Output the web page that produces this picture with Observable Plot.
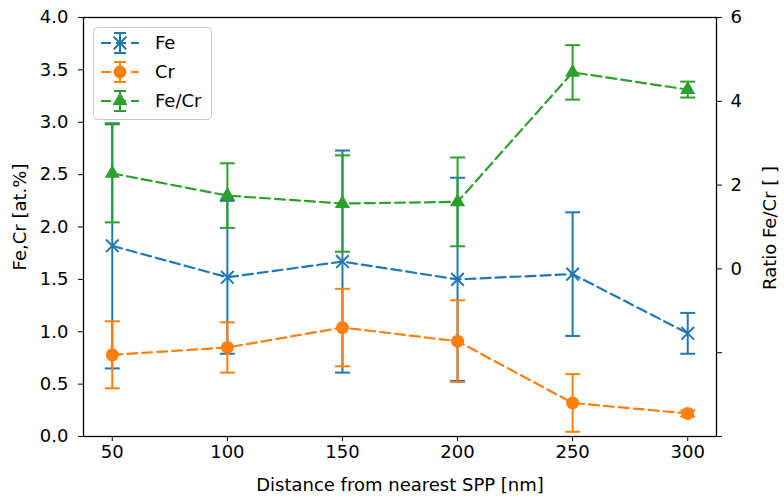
<!DOCTYPE html>
<html>
<head>
<meta charset="utf-8">
<script src="https://cdn.jsdelivr.net/npm/d3@7"></script>
<script src="https://cdn.jsdelivr.net/npm/@observablehq/plot@0.6"></script>
<style>
  html, body { margin: 0; padding: 0; background: #fff; }
  #chart { width: 784px; height: 502px; }
</style>
</head>
<body>
<div id="chart"></div>
<script>
// ---- data ----
const distances   = [50, 100, 150, 200, 250, 300];
const feValues    = [1.82, 1.52, 1.67, 1.50, 1.55, 0.985];
const feErrors    = [1.17, 0.73, 1.06, 0.97, 0.59, 0.195];
const crValues    = [0.78, 0.85, 1.04, 0.91, 0.32, 0.22];
const crErrors    = [0.32, 0.24, 0.37, 0.39, 0.275, 0.03];
const ratioValues = [2.28, 1.75, 1.56, 1.60, 4.69, 4.28];
const ratioErrors = [1.17, 0.77, 1.15, 1.06, 0.65, 0.19];

const xTicks = [50, 100, 150, 200, 250, 300];
const leftTicks = [0, 0.5, 1, 1.5, 2, 2.5, 3, 3.5, 4];
const rightTicks = [-4, -2, 0, 2, 4, 6];
const rightTickLabels = ["", "", "0", "2", "4", "6"];

const seriesNames = ["Fe", "Cr", "Fe/Cr"];
const colors = ["#1f77b4", "#ff7f0e", "#2ca02c"];

// ---- helpers ----
const leftDomain = [0, 4];
const rightDomain = [-4, 6];
const rightToLeft = d3.scaleLinear(rightDomain, leftDomain);

const fe = distances.map((x, i) => ({x, v: feValues[i], lo: feValues[i] - feErrors[i], hi: feValues[i] + feErrors[i]}));
const cr = distances.map((x, i) => ({x, v: crValues[i], lo: crValues[i] - crErrors[i], hi: crValues[i] + crErrors[i]}));
const ratio = distances.map((x, i) => ({
  x,
  v: rightToLeft(ratioValues[i]),
  lo: rightToLeft(ratioValues[i] - ratioErrors[i]),
  hi: rightToLeft(ratioValues[i] + ratioErrors[i])
}));

const capSymbol = {
  draw(context, size) {
    const w = Math.sqrt(size / Math.PI);
    context.moveTo(-w, 0);
    context.lineTo(w, 0);
  }
};

const dash = "10,5";
function seriesMarks(data, color, symbol, markerOpts) {
  return [
    Plot.ruleX(data, {x: "x", y1: "lo", y2: "hi", stroke: color, strokeWidth: 2}),
    Plot.dot(data, {x: "x", y: "hi", symbol: capSymbol, r: 7.5, stroke: color, strokeWidth: 2}),
    Plot.dot(data, {x: "x", y: "lo", symbol: capSymbol, r: 7.5, stroke: color, strokeWidth: 2}),
    Plot.line(data, {x: "x", y: "v", stroke: color, strokeWidth: 2.2, strokeDasharray: dash}),
    Plot.dot(data, {x: "x", y: "v", symbol, ...markerOpts})
  ];
}

const FS = 18;
const chart = Plot.plot({
  width: 784,
  height: 502,
  marginLeft: 83,
  marginRight: 68,
  marginTop: 17,
  marginBottom: 66,
  style: {fontFamily: "DejaVu Sans", fontSize: FS + "px", color: "#000", background: "#fff"},
  x: {domain: [37.5, 312.5]},
  y: {domain: leftDomain},
  marks: [
    ...seriesMarks(fe, colors[0], "times", {r: 5.8, stroke: colors[0], strokeWidth: 2}),
    ...seriesMarks(cr, colors[1], "circle", {r: 6.5, fill: colors[1], stroke: "none"}),
    ...seriesMarks(ratio, colors[2], "triangle", {r: 5.6, fill: colors[2], stroke: "none"}),
    Plot.frame({stroke: "#000", strokeWidth: 1.3}),
    Plot.axisX(xTicks, {tickSize: 5, tickPadding: 4, label: null, stroke: "#000", fill: "#000", fontSize: FS}),
    Plot.axisY(leftTicks, {tickSize: 5, tickPadding: 10, tickFormat: d3.format(".1f"), label: null, stroke: "#000", fill: "#000", fontSize: FS}),
    Plot.axisY(rightTicks.map(rightToLeft), {
      anchor: "right", tickSize: 5, tickPadding: 9, label: null, stroke: "#000", fill: "#000", fontSize: FS,
      tickFormat: (v, i) => rightTickLabels[i]
    }),
    Plot.text(["Distance from nearest SPP [nm]"], {frameAnchor: "bottom", dy: 49, textAnchor: "middle", lineAnchor: "middle", fill: "#000", fontSize: FS}),
    Plot.text(["Fe,Cr [at.%]"], {frameAnchor: "left", dx: -63, dy: -10, textAnchor: "middle", lineAnchor: "middle", rotate: -90, fill: "#000", fontSize: FS}),
    Plot.text(["Ratio Fe/Cr [ ]"], {frameAnchor: "right", dx: 54, dy: 1, textAnchor: "middle", lineAnchor: "middle", rotate: -90, fill: "#000", fontSize: FS})
  ]
});

document.getElementById("chart").appendChild(chart);

// ---- legend (drawn into the same SVG) ----
const svg = d3.select(chart);
const lg = svg.append("g").attr("font-family", "DejaVu Sans").attr("font-size", FS).attr("text-anchor", "start");
lg.append("rect")
  .attr("x", 93.5).attr("y", 27.5).attr("width", 118).attr("height", 92)
  .attr("rx", 4).attr("fill", "#fff").attr("fill-opacity", 0.8)
  .attr("stroke", "#cccccc").attr("stroke-width", 1);
const rowY = [43, 72, 101];
const symGen = [d3.symbolTimes, d3.symbolCircle, d3.symbolTriangle];
const symR = [5.8, 6.5, 5.6];
seriesNames.forEach((name, i) => {
  const y = rowY[i];
  const c = colors[i];
  const g = lg.append("g");
  g.append("line").attr("x1", 101).attr("x2", 139).attr("y1", y).attr("y2", y)
    .attr("stroke", c).attr("stroke-width", 2.2).attr("stroke-dasharray", dash);
  g.append("line").attr("x1", 120).attr("x2", 120).attr("y1", y - 10).attr("y2", y + 10)
    .attr("stroke", c).attr("stroke-width", 2);
  [y - 10, y + 10].forEach(cy => g.append("line").attr("x1", 114).attr("x2", 126).attr("y1", cy).attr("y2", cy)
    .attr("stroke", c).attr("stroke-width", 2));
  const path = d3.symbol(symGen[i], Math.PI * symR[i] * symR[i])();
  const p = g.append("path").attr("d", path).attr("transform", `translate(120,${y})`);
  if (i === 0) p.attr("fill", "none").attr("stroke", c).attr("stroke-width", 2);
  else p.attr("fill", c);
  g.append("text").attr("x", 155).attr("y", y).attr("dy", "0.35em").attr("text-anchor", "start").attr("fill", "#000").text(name);
});
</script>
</body>
</html>
